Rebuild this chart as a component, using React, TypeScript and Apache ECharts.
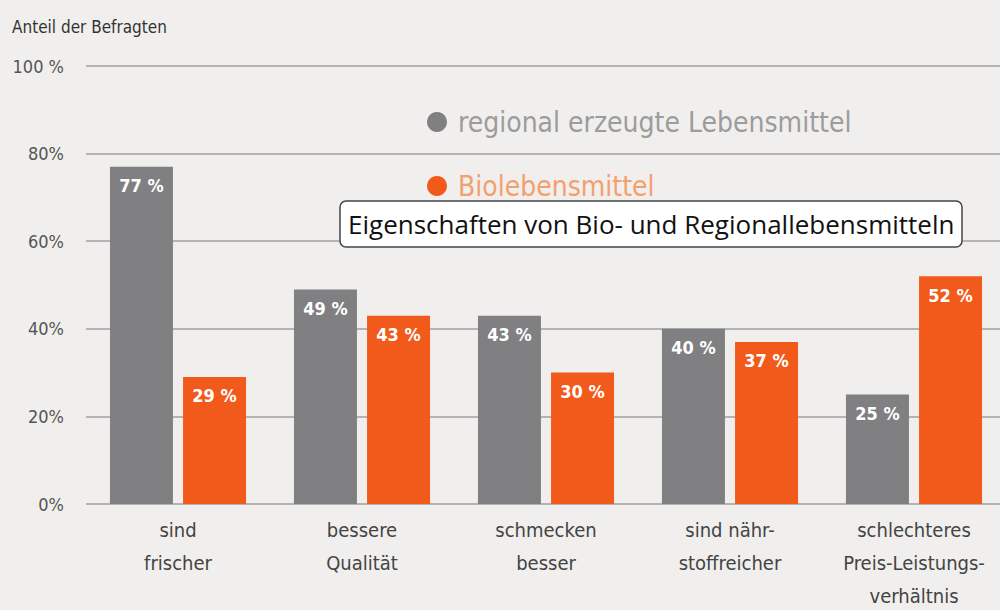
import React, { useEffect, useRef } from "react";
import * as echarts from "echarts";

const categories = [
  "sind\nfrischer",
  "bessere\nQualität",
  "schmecken\nbesser",
  "sind nähr-\nstoffreicher",
  "schlechteres\nPreis-Leistungs-\nverhältnis",
];
const regionalValues = [77, 49, 43, 40, 25];
const bioValues = [29, 43, 30, 37, 52];
const seriesNames = ["regional erzeugte Lebensmittel", "Biolebensmittel"];
const yTickLabels: Record<number, string> = { 0: "0%", 20: "20%", 40: "40%", 60: "60%", 80: "80%", 100: "100 %" };

const narrow = "'DejaVu Sans Condensed', 'Liberation Sans Narrow', sans-serif";

export default function App() {
  const ref = useRef<HTMLDivElement>(null);
  useEffect(() => {
    const chart = echarts.init(ref.current!, undefined, { renderer: "svg" });
    const label = {
      show: true,
      position: "insideTop" as const,
      distance: 10,
      color: "#ffffff",
      fontFamily: narrow,
      fontSize: 18,
      fontWeight: "bold" as const,
      formatter: (p: any) => p.value + " %",
    };
    chart.setOption({
      animation: false,
      backgroundColor: "#f0efed",
      title: {
        text: "Eigenschaften von Bio- und Regionallebensmitteln",
        left: 340,
        top: 201,
        padding: [8, 8, 8, 8],
        backgroundColor: "#ffffff",
        borderColor: "#444444",
        borderWidth: 1.5,
        borderRadius: 6,
        textStyle: { color: "#111111", fontSize: 26, lineHeight: 30, fontWeight: "normal", fontFamily: "'Open Sans', 'Noto Sans', sans-serif" },
      },
      legend: {
        data: [
          { name: seriesNames[0], textStyle: { color: "#9c9c9c" } },
          { name: seriesNames[1], textStyle: { color: "#f3a06f" } },
        ],
        orient: "vertical",
        left: 422,
        top: 103,
        itemGap: 36,
        icon: "circle",
        itemWidth: 20,
        itemHeight: 20,
        selectedMode: false,
        textStyle: { fontSize: 28, fontFamily: narrow, padding: [0, 0, 0, 6] },
      },
      graphic: [
        {
          type: "text",
          left: 12,
          top: 18,
          style: { text: "Anteil der Befragten", fontSize: 17, fontFamily: narrow, fill: "#333333" },
        },
      ],
      grid: { left: 86, right: 0, top: 66, bottom: 106, containLabel: false, outerBoundsMode: "none" },
      xAxis: {
        type: "category",
        data: categories,
        axisLine: { show: false },
        axisTick: { show: false },
        axisLabel: { interval: 0, color: "#444444", fontSize: 20, fontFamily: narrow, lineHeight: 33, margin: 9 },
      },
      yAxis: {
        type: "value",
        min: 0,
        max: 100,
        interval: 20,
        axisLine: { show: false },
        axisTick: { show: false },
        splitLine: { lineStyle: { color: "#b4b4b4", width: 2 } },
        axisLabel: {
          color: "#555555",
          fontSize: 18,
          fontFamily: narrow,
          margin: 22,
          formatter: (v: number) => yTickLabels[v] ?? v + "%",
        },
      },
      series: [
        {
          name: seriesNames[0],
          type: "bar",
          data: regionalValues,
          barWidth: 63,
          barGap: "16%",
          itemStyle: { color: "#807f81" },
          label,
        },
        {
          name: seriesNames[1],
          type: "bar",
          data: bioValues,
          barWidth: 63,
          itemStyle: { color: "#f25a1c" },
          label,
        },
      ],
    });
    return () => chart.dispose();
  }, []);
  return <div ref={ref} style={{ width: 1006, height: 610, position: "fixed", left: 0, top: 0 }} />;
}
